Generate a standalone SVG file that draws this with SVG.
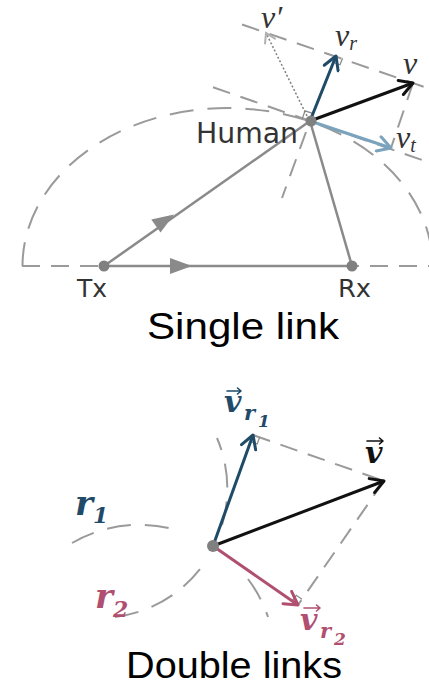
<svg xmlns="http://www.w3.org/2000/svg" width="429" height="686" viewBox="0 0 429 686">
<style>
.dash{fill:none;stroke:#9a9a9a;stroke-width:2;stroke-dasharray:18 11}
.dashe{fill:none;stroke:#9a9a9a;stroke-width:2;stroke-dasharray:24 14}
.solid{fill:none;stroke:#8a8a8a;stroke-width:2.5}
.dot{fill:#808080}
.lbl{font-family:"DejaVu Sans",sans-serif;fill:#333}
.math{font-family:"Liberation Serif","DejaVu Serif",serif;font-style:italic;fill:#333}
.bm{font-family:"DejaVu Serif",serif;font-style:italic;font-weight:bold}
.cap{font-family:"Liberation Sans",Arial,sans-serif;fill:#000}
.ra{fill:none;stroke:#8a8a8a;stroke-width:1.3}
.acc{fill:none;stroke-width:1.6;stroke-linecap:round;stroke-linejoin:round}
</style>
<defs>
<marker id="hk" viewBox="-15 -9 18 18" refX="0" refY="0" markerUnits="userSpaceOnUse" markerWidth="18" markerHeight="18" orient="auto"><path d="M-13,-7.5 L0,0 L-13,7.5" fill="none" stroke="#111" stroke-width="3" stroke-linecap="round" stroke-linejoin="round"/></marker>
<marker id="hb" viewBox="-15 -9 18 18" refX="0" refY="0" markerUnits="userSpaceOnUse" markerWidth="18" markerHeight="18" orient="auto"><path d="M-13,-7.5 L0,0 L-13,7.5" fill="none" stroke="#1f4a68" stroke-width="3" stroke-linecap="round" stroke-linejoin="round"/></marker>
<marker id="hl" viewBox="-15 -9 18 18" refX="0" refY="0" markerUnits="userSpaceOnUse" markerWidth="18" markerHeight="18" orient="auto"><path d="M-13,-7.5 L0,0 L-13,7.5" fill="none" stroke="#7ba3bd" stroke-width="3" stroke-linecap="round" stroke-linejoin="round"/></marker>
<marker id="hp" viewBox="-15 -9 18 18" refX="0" refY="0" markerUnits="userSpaceOnUse" markerWidth="18" markerHeight="18" orient="auto"><path d="M-13,-7.5 L0,0 L-13,7.5" fill="none" stroke="#b04f70" stroke-width="3" stroke-linecap="round" stroke-linejoin="round"/></marker>
<marker id="hg" viewBox="-12 -7 14 14" refX="0" refY="0" markerUnits="userSpaceOnUse" markerWidth="14" markerHeight="14" orient="auto"><path d="M-9,-5.5 L0,0 L-9,5.5" fill="none" stroke="#b0b0b0" stroke-width="2" stroke-linecap="round"/></marker>
</defs>

<!-- ===== Single link ===== -->
<g id="construction-single">
<path class="dashe" d="M22.5,266 A205,158 0 0 1 432.5,266"/>
<line class="dash" x1="22" y1="266" x2="429" y2="266"/>
<line class="dash" x1="213" y1="87.2" x2="425" y2="161"/>
<line class="dash" x1="242" y1="24.5" x2="429" y2="88.6"/>
<line class="dash" x1="306" y1="132" x2="282" y2="198"/>
<line class="dash" x1="413" y1="83" x2="391" y2="148"/>
<polyline class="ra" points="302.4,118.4 305,110.9 312.6,113.4"/>
<polyline class="ra" points="342.6,58.3 340,64.8 333.4,62.5"/>
</g>

<g id="connectors-single">
<line class="solid" x1="104" y1="266" x2="310" y2="121"/>
<line class="solid" x1="104" y1="266" x2="352" y2="266"/>
<line class="solid" x1="310" y1="121" x2="352" y2="266"/>
<polygon points="174,214.5 160.5,232.5 151.3,219.5" fill="#8a8a8a"/>
<polygon points="192,266 170,258 170,274" fill="#8a8a8a"/>
<line x1="307" y1="116" x2="266" y2="33" stroke="#808080" stroke-width="1.5" stroke-dasharray="2 2" marker-end="url(#hg)"/>
<line x1="310" y1="121" x2="336" y2="56" stroke="#1f4a68" stroke-width="3" marker-end="url(#hb)"/>
<line x1="310" y1="121" x2="413" y2="83" stroke="#111" stroke-width="3" marker-end="url(#hk)"/>
<line x1="310" y1="121" x2="391" y2="148" stroke="#7ba3bd" stroke-width="3" marker-end="url(#hl)"/>
</g>

<g id="node-human">
<circle class="dot" cx="311" cy="121" r="5.5"/>
<text class="lbl" x="196" y="143" font-size="28" textLength="102" lengthAdjust="spacingAndGlyphs">Human</text>
</g>
<g id="node-tx">
<circle class="dot" cx="104" cy="266" r="5.5"/>
<text class="lbl" x="77" y="297" font-size="24" textLength="30" lengthAdjust="spacingAndGlyphs">Tx</text>
</g>
<g id="node-rx">
<circle class="dot" cx="352" cy="266" r="5.5"/>
<text class="lbl" x="338" y="297" font-size="24" textLength="33" lengthAdjust="spacingAndGlyphs">Rx</text>
</g>

<g id="labels-single">
<text class="math" x="261" y="28" font-size="32">v′</text>
<text class="math" x="335" y="46" font-size="32">v<tspan font-size="20" dy="4">r</tspan></text>
<text class="math" x="403" y="74" font-size="32">v</text>
<text class="math" x="396" y="148" font-size="32">v<tspan font-size="20" dy="4">t</tspan></text>
</g>
<text class="cap" x="147" y="339" font-size="36" textLength="192" lengthAdjust="spacingAndGlyphs">Single link</text>

<!-- ===== Double links ===== -->
<g id="construction-double">
<path class="dashe" d="M72,543 A135,135 0 0 1 180,531"/>
<path class="dashe" d="M248,579 A135,135 0 0 1 268,617"/>
<path class="dashe" d="M115,617 A128,128 0 0 0 203,565"/>
<path class="dashe" d="M222,525 A128,128 0 0 0 217,438"/>
<line class="dash" x1="253" y1="435" x2="384" y2="481"/>
<line class="dash" x1="384" y1="481" x2="298" y2="605"/>
<polyline class="ra" points="259.6,437.4 257.2,444 250.6,441.6"/>
<polyline class="ra" points="302,599.3 296.3,595.3 292.2,601"/>
</g>

<g id="connectors-double">
<line x1="213" y1="546" x2="253" y2="435" stroke="#1f4a68" stroke-width="3" marker-end="url(#hb)"/>
<line x1="213" y1="546" x2="384" y2="481" stroke="#111" stroke-width="3" marker-end="url(#hk)"/>
<line x1="213" y1="546" x2="298" y2="605" stroke="#b04f70" stroke-width="3" marker-end="url(#hp)"/>
</g>

<g id="node-human2">
<circle class="dot" cx="213" cy="546" r="6"/>
</g>

<g id="labels-double">
<text class="bm" x="75" y="515" font-size="34" fill="#1f4a68">r<tspan font-size="22" dy="8">1</tspan></text>
<text class="bm" x="95" y="608" font-size="34" fill="#b04f70">r<tspan font-size="22" dy="9">2</tspan></text>
<path class="acc" stroke="#1f4a68" d="M227,391 H241 M237.5,388 L241,391 L237.5,394"/>
<text class="bm" x="224" y="412" font-size="30" fill="#1f4a68">v<tspan x="244" y="420" font-size="21">r</tspan><tspan x="258" y="427" font-size="17">1</tspan></text>
<path class="acc" stroke="#111" d="M367,441 H383 M379.5,438 L383,441 L379.5,444"/>
<text class="bm" x="365" y="463" font-size="30" fill="#111">v</text>
<path class="acc" stroke="#b04f70" d="M304,608 H320 M316.5,605 L320,608 L316.5,611"/>
<text class="bm" x="300" y="630" font-size="30" fill="#b04f70">v<tspan x="320" y="638" font-size="21">r</tspan><tspan x="334" y="645" font-size="17">2</tspan></text>
</g>
<text class="cap" x="126" y="678" font-size="37" textLength="216" lengthAdjust="spacingAndGlyphs">Double links</text>
</svg>
